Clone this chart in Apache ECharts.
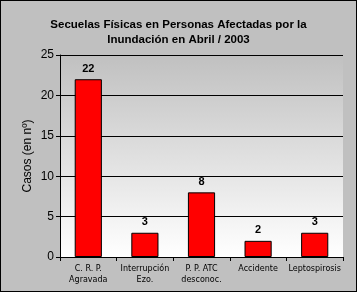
<!DOCTYPE html>
<html><head><meta charset="utf-8">
<script src="https://cdn.jsdelivr.net/npm/echarts@6/dist/echarts.min.js"></script>
<style>html,body{margin:0;padding:0;background:#c0c0c0}#c{width:357px;height:292px;box-sizing:border-box;border:1px solid #000;}</style>
</head><body><div id="c"></div>
<script>
const categories = ['C. R. P.\nAgravada', 'Interrupción\nEzo.', 'P. P. ATC\ndesconoc.', 'Accidente', 'Leptospirosis'];
const values = [22, 3, 8, 2, 3];
const yTicks = [0, 5, 10, 15, 20, 25];
const titleText = 'Secuelas Físicas en Personas Afectadas por la\nInundación en Abril / 2003';
const yName = 'Casos (en nº)';

const chart = echarts.init(document.getElementById('c'), null, {renderer: 'canvas'});
chart.setOption({
  backgroundColor: '#c0c0c0',
  animation: false,
  title: {
    text: titleText, left: 'center', top: 11,
    textStyle: {fontFamily: 'Liberation Sans', fontWeight: 'bold', fontSize: 11.5, lineHeight: 15, color: '#000'}
  },
  grid: {
    left: 59, right: 13, top: 54, bottom: 34, show: true,
    borderWidth: 0,
    backgroundColor: {type: 'linear', x: 0, y: 0, x2: 0, y2: 1, colorStops: [{offset: 0, color: '#c0c0c0'}, {offset: 1, color: '#ffffff'}]}
  },
  xAxis: {
    type: 'category', data: categories,
    axisLine: {lineStyle: {color: '#000', width: 1}},
    axisTick: {show: true, length: 4, lineStyle: {color: '#000'}},
    axisLabel: {fontFamily: 'DejaVu Sans', fontSize: 8, color: '#000', lineHeight: 11, margin: 6, interval: 0}
  },
  yAxis: {
    type: 'value', min: 0, max: 25, interval: 5,
    name: yName, nameLocation: 'middle', nameGap: 26, nameRotate: 90, nameMoveOverlap: false,
    nameTextStyle: {fontFamily: 'Liberation Sans', fontSize: 12, color: '#000'},
    axisLine: {show: true, lineStyle: {color: '#000'}},
    axisTick: {show: true, length: 4, lineStyle: {color: '#000'}},
    axisLabel: {fontFamily: 'Liberation Sans', fontSize: 12, color: '#000', margin: 6,
      formatter: v => yTicks.includes(v) ? String(v) : ''},
    splitLine: {lineStyle: {color: '#000', width: 1}}
  },
  series: [{
    type: 'bar', data: values, barWidth: '48%',
    itemStyle: {color: '#ff0000', borderColor: '#000', borderWidth: 1},
    label: {show: true, position: 'top', distance: 5, fontFamily: 'Liberation Sans', fontWeight: 'bold', fontSize: 11, color: '#000'}
  }]
});
</script></body></html>
